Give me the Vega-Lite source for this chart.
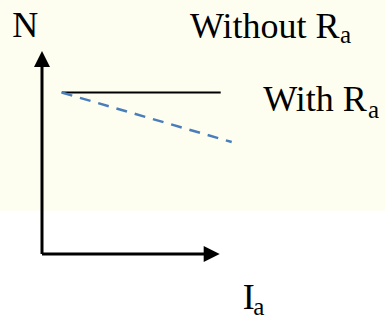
{
  "$schema": "https://vega.github.io/schema/vega-lite/v6.json",
  "width": 385,
  "height": 320,
  "autosize": {"type": "fit", "contains": "padding"},
  "padding": 0,
  "background": "#ffffff",
  "config": {"view": {"stroke": null}},
  "datasets": {
    "panel": [{"x0": -2.1, "x1": 17.15, "y0": 2.2, "y1": 12.9}],
    "axesLines": [
      {"axis": "N", "x0": 0, "x1": 0, "y0": 0, "y1": 9.8},
      {"axis": "Ia", "x0": 0, "x1": 8.15, "y0": 0, "y1": 0}
    ],
    "upArrow": [{"x": 0, "y": 9.9}],
    "rightArrow": [{"x": 8.485, "y": 0}],
    "withoutRa": [{"Ia": 0.985, "N": 8.2}, {"Ia": 8.935, "N": 8.2}],
    "withRa": [{"Ia": 0.985, "N": 8.2}, {"Ia": 9.485, "N": 5.685}],
    "mainLabels": [
      {"label": "N", "x": -1.49, "y": 11.015},
      {"label": "Without R", "x": 7.4, "y": 10.985},
      {"label": "With R", "x": 11.065, "y": 7.285},
      {"label": "I", "x": 10.035, "y": -2.815}
    ],
    "subLabels": [
      {"label": "a", "x": 14.9, "y": 10.735},
      {"label": "a", "x": 16.3, "y": 6.9},
      {"label": "a", "x": 10.565, "y": -3.075}
    ]
  },
  "layer": [
    {
      "data": {"name": "panel"},
      "mark": {"type": "rect", "color": "#FEFEF0"},
      "encoding": {
        "x": {"field": "x0", "type": "quantitative", "scale": {"domain": [-2.1, 17.15], "nice": false, "zero": false}, "axis": null},
        "x2": {"field": "x1"},
        "y": {"field": "y0", "type": "quantitative", "scale": {"domain": [-3.1, 12.9], "nice": false, "zero": false}, "axis": null},
        "y2": {"field": "y1"}
      }
    },
    {
      "data": {"name": "axesLines"},
      "mark": {"type": "rule", "color": "#000000", "strokeWidth": 3},
      "encoding": {
        "x": {"field": "x0", "type": "quantitative", "axis": null},
        "x2": {"field": "x1"},
        "y": {"field": "y0", "type": "quantitative", "axis": null},
        "y2": {"field": "y1"}
      }
    },
    {
      "data": {"name": "upArrow"},
      "mark": {"type": "point", "shape": "M-1,1L1,1L0,-1Z", "size": 256, "filled": true, "color": "#000000", "opacity": 1, "strokeWidth": 0},
      "encoding": {
        "x": {"field": "x", "type": "quantitative", "axis": null},
        "y": {"field": "y", "type": "quantitative", "axis": null}
      }
    },
    {
      "data": {"name": "rightArrow"},
      "mark": {"type": "point", "shape": "M-1,-1L1,0L-1,1Z", "size": 256, "filled": true, "color": "#000000", "opacity": 1, "strokeWidth": 0},
      "encoding": {
        "x": {"field": "x", "type": "quantitative", "axis": null},
        "y": {"field": "y", "type": "quantitative", "axis": null}
      }
    },
    {
      "data": {"name": "withoutRa"},
      "mark": {"type": "line", "color": "#000000", "strokeWidth": 2},
      "encoding": {
        "x": {"field": "Ia", "type": "quantitative", "axis": null},
        "y": {"field": "N", "type": "quantitative", "axis": null}
      }
    },
    {
      "data": {"name": "withRa"},
      "mark": {"type": "line", "color": "#4A7EBB", "strokeWidth": 2.5, "strokeDash": [11, 8]},
      "encoding": {
        "x": {"field": "Ia", "type": "quantitative", "axis": null},
        "y": {"field": "N", "type": "quantitative", "axis": null}
      }
    },
    {
      "data": {"name": "mainLabels"},
      "mark": {"type": "text", "align": "left", "baseline": "alphabetic", "font": "Liberation Serif", "fontSize": 36, "color": "#000000"},
      "encoding": {
        "x": {"field": "x", "type": "quantitative", "axis": null},
        "y": {"field": "y", "type": "quantitative", "axis": null},
        "text": {"field": "label"}
      }
    },
    {
      "data": {"name": "subLabels"},
      "mark": {"type": "text", "align": "left", "baseline": "alphabetic", "font": "Liberation Serif", "fontSize": 25, "color": "#000000"},
      "encoding": {
        "x": {"field": "x", "type": "quantitative", "axis": null},
        "y": {"field": "y", "type": "quantitative", "axis": null},
        "text": {"field": "label"}
      }
    }
  ]
}
